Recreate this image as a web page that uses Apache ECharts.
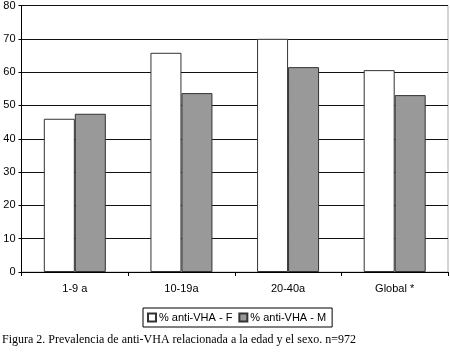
<!DOCTYPE html>
<html>
<head>
<meta charset="utf-8">
<script src="https://cdn.jsdelivr.net/npm/echarts@6/dist/echarts.min.js"></script>
<style>
  html, body { margin: 0; padding: 0; background: #fff; }
  #chart { width: 450px; height: 353px; }
</style>
</head>
<body>
<div id="chart"></div>
<script>
var categories = ['1-9 a', '10-19a', '20-40a', 'Global *'];
var femValues = [46, 65.8, 70, 60.6];
var mascValues = [47.5, 53.7, 61.5, 53.1];
var seriesNames = ['% anti-VHA - F', '% anti-VHA - M'];
var caption = 'Figura 2. Prevalencia de anti-VHA relacionada a la edad y el sexo. n=972';

var myChart = echarts.init(document.getElementById('chart'));
var option = {
  animation: false,
  title: {
    text: caption,
    left: 2,
    top: 334,
    padding: 0,
    textStyle: {
      fontFamily: 'Liberation Serif',
      fontSize: 12,
      fontWeight: 'normal',
      color: '#000'
    }
  },
  legend: {
    data: seriesNames,
    left: 143,
    top: 308,
    padding: [4, 6, 4, 4],
    itemGap: 6,
    itemWidth: 8,
    itemHeight: 8,
    icon: 'rect',
    borderColor: '#000',
    borderWidth: 1,
    textStyle: { fontFamily: 'Liberation Sans', fontSize: 11, color: '#000', padding: [0, 0, 0, -2] }
  },
  grid: {
    left: 21.5,
    right: 2,
    top: 4,
    bottom: 81,
    show: true,
    borderColor: '#aaa',
    borderWidth: 1
  },
  xAxis: {
    type: 'category',
    data: categories,
    axisLine: { lineStyle: { color: '#000', width: 1 } },
    axisTick: { show: true, length: 4, lineStyle: { color: '#000' } },
    axisLabel: { fontFamily: 'Liberation Sans', fontSize: 11, color: '#000', margin: 11 }
  },
  yAxis: {
    type: 'value',
    min: 0,
    max: 80,
    interval: 10,
    axisLine: { show: true, lineStyle: { color: '#000', width: 1 } },
    axisTick: { show: true, length: 3, lineStyle: { color: '#000' } },
    axisLabel: { fontFamily: 'Liberation Sans', fontSize: 11, color: '#000', margin: 6 },
    splitLine: { lineStyle: { color: '#111', width: 1 } }
  },
  series: [
    {
      name: seriesNames[0],
      type: 'bar',
      data: femValues,
      barWidth: 31,
      barGap: '0%',
      itemStyle: { color: '#fff', borderColor: '#333', borderWidth: 1 }
    },
    {
      name: seriesNames[1],
      type: 'bar',
      data: mascValues,
      barWidth: 31,
      barGap: '0%',
      itemStyle: { color: '#999', borderColor: '#333', borderWidth: 1 }
    }
  ]
};
myChart.setOption(option);
</script>
</body>
</html>
